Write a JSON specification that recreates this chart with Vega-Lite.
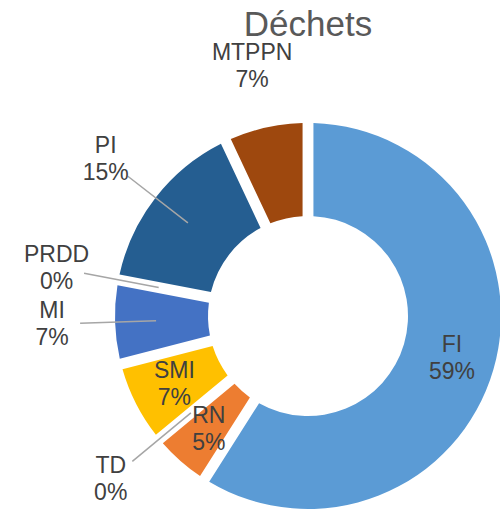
{
  "$schema": "https://vega.github.io/schema/vega-lite/v6.json",
  "width": 384,
  "height": 384,
  "autosize": {"type": "none"},
  "padding": {"left": 116, "top": 124, "right": 0, "bottom": 4},
  "background": "white",
  "view": {"stroke": null},
  "title": {
    "text": "Déchets",
    "fontSize": 35,
    "font": "Liberation Sans",
    "fontWeight": "normal",
    "color": "#595959",
    "offset": -1,
    "anchor": "middle",
    "frame": "group"
  },
  "data": {
    "values": [
      {"cat": "FI", "value": 59, "order": 1, "pos": "inside", "leader": false},
      {"cat": "RN", "value": 5, "order": 2, "pos": "inside", "leader": false},
      {"cat": "TD", "value": 0, "order": 3, "pos": "outside", "leader": true},
      {"cat": "SMI", "value": 7, "order": 4, "pos": "inside", "leader": false},
      {"cat": "MI", "value": 7, "order": 5, "pos": "outside", "leader": true},
      {"cat": "PRDD", "value": 0, "order": 6, "pos": "outside", "leader": true},
      {"cat": "PI", "value": 15, "order": 7, "pos": "outside", "leader": true},
      {"cat": "MTPPN", "value": 7, "order": 8, "pos": "outside", "leader": false}
    ]
  },
  "transform": [
    {"calculate": "datum.cat + '\\n' + datum.value + '%'", "as": "label"},
    {"window": [{"op": "sum", "field": "value", "as": "cum"}], "sort": [{"field": "order"}], "frame": [null, 0]},
    {"calculate": "datum.cum - datum.value / 2", "as": "mid"}
  ],
  "layer": [
    {
      "mark": {"type": "arc", "innerRadius": 100, "outerRadius": 193, "padAngle": 0.05},
      "encoding": {
        "theta": {"field": "value", "type": "quantitative", "stack": true, "scale": {"domain": [0, 100], "range": [0, 6.283185]}},
        "order": {"field": "order", "type": "quantitative"},
        "color": {
          "field": "cat",
          "type": "nominal",
          "legend": null,
          "scale": {
            "domain": ["FI", "RN", "TD", "SMI", "MI", "PRDD", "PI", "MTPPN"],
            "range": ["#5B9BD5", "#ED7D31", "#A5A5A5", "#FFC000", "#4472C4", "#70AD47", "#255E91", "#9E480E"]
          }
        }
      }
    },
    {
      "transform": [{"filter": "datum.leader"}],
      "mark": {"type": "arc", "innerRadius": 152, "outerRadius": 228, "stroke": "#A6A6A6", "strokeWidth": 1.5, "fill": "transparent"},
      "encoding": {
        "theta": {"field": "mid", "type": "quantitative", "scale": {"domain": [0, 100], "range": [0, 6.283185]}},
        "theta2": {"field": "mid"}
      }
    },
    {
      "transform": [{"filter": "datum.pos === 'inside'"}],
      "mark": {"type": "text", "radius": 150, "dy": -13, "fontSize": 23, "font": "Liberation Sans", "color": "#404040", "lineBreak": "\n", "lineHeight": 27},
      "encoding": {
        "theta": {"field": "mid", "type": "quantitative", "scale": {"domain": [0, 100], "range": [0, 6.283185]}},
        "text": {"field": "label"}
      }
    },
    {
      "transform": [{"filter": "datum.pos === 'outside'"}],
      "mark": {"type": "text", "radius": 256, "dy": -13, "fontSize": 23, "font": "Liberation Sans", "color": "#404040", "lineBreak": "\n", "lineHeight": 27},
      "encoding": {
        "theta": {"field": "mid", "type": "quantitative", "scale": {"domain": [0, 100], "range": [0, 6.283185]}},
        "text": {"field": "label"}
      }
    }
  ]
}
